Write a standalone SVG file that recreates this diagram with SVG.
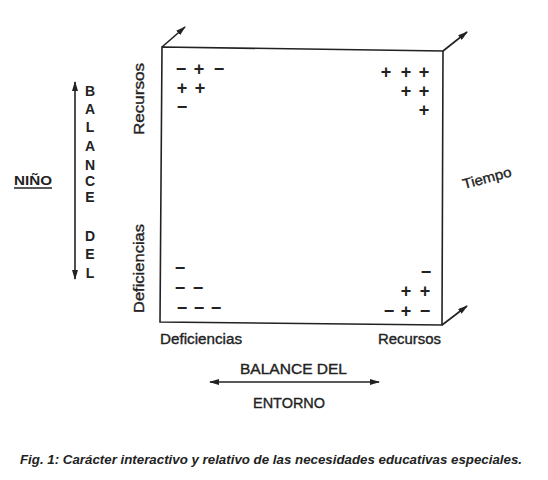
<svg xmlns="http://www.w3.org/2000/svg" width="548" height="480" viewBox="0 0 548 480">
<style>
.ln{stroke:#222;stroke-width:1.6;fill:none}
.s{font-family:"Liberation Sans",Arial,sans-serif;font-size:18px;font-weight:bold;text-anchor:middle;fill:#222}
.t{font-family:"Liberation Sans",Arial,sans-serif;font-size:14px;fill:#222;stroke:#222;stroke-width:0.35}
.v{font-family:"Liberation Sans",Arial,sans-serif;font-size:14px;font-weight:bold;text-anchor:middle;fill:#222}
</style>
<defs>
<marker id="ah" viewBox="0 0 10 6" refX="9" refY="3" markerWidth="10" markerHeight="6" markerUnits="userSpaceOnUse" orient="auto-start-reverse">
<path d="M0,0 L10,3 L0,6 Z" fill="#222"/>
</marker>
</defs>
<rect width="548" height="480" fill="#fff"/>
<g id="box">
<polygon class="ln" points="162,47 443,51 442,325 160,322"/>
</g>
<g id="connectors">
<line class="ln" x1="162" y1="47" x2="185" y2="27" marker-end="url(#ah)"/>
<line class="ln" x1="443" y1="51" x2="467" y2="32" marker-end="url(#ah)"/>
<line class="ln" x1="442" y1="325" x2="467" y2="306" marker-end="url(#ah)"/>
<line class="ln" x1="75" y1="82" x2="75" y2="279" stroke-width="2" marker-start="url(#ah)" marker-end="url(#ah)"/>
<line class="ln" x1="210" y1="382" x2="379" y2="382" stroke-width="2" marker-start="url(#ah)" marker-end="url(#ah)"/>
</g>
<g id="signs-top-left">
<text class="s" x="181" y="75">−</text><text class="s" x="199" y="75">+</text><text class="s" x="219" y="75">−</text>
<text class="s" x="182" y="94">+</text><text class="s" x="200" y="94">+</text>
<text class="s" x="182" y="113">−</text>
</g>
<g id="signs-top-right">
<text class="s" x="386" y="78">+</text><text class="s" x="406" y="78">+</text><text class="s" x="424" y="78">+</text>
<text class="s" x="406" y="97">+</text><text class="s" x="424" y="97">+</text>
<text class="s" x="424" y="116">+</text>
</g>
<g id="signs-bottom-left">
<text class="s" x="180" y="274">−</text>
<text class="s" x="180" y="294">−</text><text class="s" x="198" y="294">−</text>
<text class="s" x="182" y="314">−</text><text class="s" x="199" y="314">−</text><text class="s" x="216" y="314">−</text>
</g>
<g id="signs-bottom-right">
<text class="s" x="426" y="278">−</text>
<text class="s" x="406" y="297">+</text><text class="s" x="425" y="297">+</text>
<text class="s" x="389" y="317">−</text><text class="s" x="406" y="317">+</text><text class="s" x="425" y="317">−</text>
</g>
<g id="axis-labels">
<text class="t" x="160" y="344" textLength="82" lengthAdjust="spacingAndGlyphs">Deficiencias</text>
<text class="t" x="378" y="344" textLength="63" lengthAdjust="spacingAndGlyphs">Recursos</text>
<text class="t" transform="translate(144,135) rotate(-90)" textLength="72" lengthAdjust="spacingAndGlyphs">Recursos</text>
<text class="t" transform="translate(144,313) rotate(-90)" textLength="89" lengthAdjust="spacingAndGlyphs">Deficiencias</text>
<text class="t" transform="translate(464,189) rotate(-15)" font-size="13" textLength="50" lengthAdjust="spacingAndGlyphs">Tiempo</text>
</g>
<g id="balance-nino">
<text class="v" x="90" y="96">B</text>
<text class="v" x="90" y="114">A</text>
<text class="v" x="90" y="132">L</text>
<text class="v" x="90" y="151">A</text>
<text class="v" x="90" y="170">N</text>
<text class="v" x="90" y="186">C</text>
<text class="v" x="90" y="202">E</text>
<text class="v" x="90" y="241">D</text>
<text class="v" x="90" y="259">E</text>
<text class="v" x="90" y="278">L</text>
<text x="14" y="185" font-family="'Liberation Sans',Arial,sans-serif" font-size="12" font-weight="bold" fill="#222" textLength="38" lengthAdjust="spacingAndGlyphs">NIÑO</text>
<line x1="14" y1="188" x2="52" y2="188" stroke="#222" stroke-width="1.3"/>
</g>
<g id="balance-entorno">
<text class="t" x="240" y="374" textLength="107" lengthAdjust="spacingAndGlyphs">BALANCE DEL</text>
<text class="t" x="253" y="408" textLength="72" lengthAdjust="spacingAndGlyphs">ENTORNO</text>
</g>
<g id="caption">
<text x="20" y="464" font-family="'Liberation Sans',Arial,sans-serif" font-size="13.5" font-weight="bold" font-style="italic" fill="#222" textLength="502" lengthAdjust="spacingAndGlyphs">Fig. 1: Carácter interactivo y relativo de las necesidades educativas especiales.</text>
</g>
</svg>
